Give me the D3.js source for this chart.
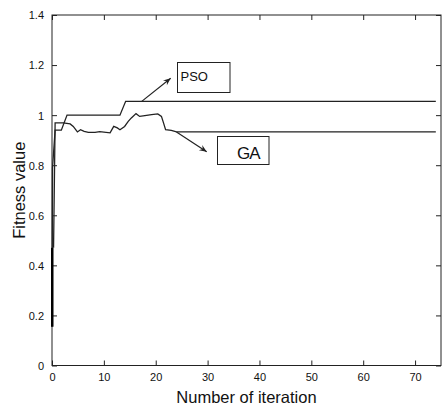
<!DOCTYPE html>
<html><head><meta charset="utf-8">
<script src="https://cdn.jsdelivr.net/npm/d3@7"></script>
<style>body{margin:0;background:#fff}svg{display:block}</style>
</head><body>
<svg id="c" width="442" height="409"></svg>
<script>
const xTicks = [0,10,20,30,40,50,60,70];
const yTicks = [0,0.2,0.4,0.6,0.8,1,1.2,1.4];
const psoIter = [0, 0.1, 0.6, 1.8, 2.9, 13.1, 14.2, 74];
const psoVal  = [0.155, 0.79, 0.94, 0.94, 1.0, 1.0, 1.055, 1.055];
const gaIter = [0.3, 0.6, 2.2, 3.5, 4.1, 4.9, 5.5, 6.2, 7.0, 8.3, 9.2, 11.2, 11.9, 12.6, 13.1, 14.0, 14.7, 15.3, 16.2, 16.9, 17.9, 19.2, 20.4, 21.1, 21.5, 21.9, 23.0, 24.0, 74];
const gaVal  = [0.47, 0.969, 0.969, 0.965, 0.955, 0.933, 0.942, 0.935, 0.931, 0.931, 0.934, 0.929, 0.955, 0.949, 0.942, 0.955, 0.975, 0.989, 1.006, 0.995, 0.998, 1.002, 1.005, 0.995, 0.969, 0.942, 0.939, 0.933, 0.933];
const labels = ["PSO","GA"];

const svg = d3.select("#c");
const L=52, R=441, T=15, B=365.5;
const x = d3.scaleLinear().domain([0,75]).range([L,R]);
const y = d3.scaleLinear().domain([0,1.4]).range([B,T]);
const col = "#222";
const font = "Arial, 'Liberation Sans', sans-serif";

svg.append("rect").attr("x",L).attr("y",T).attr("width",R-L).attr("height",B-T)
  .attr("fill","none").attr("stroke",col).attr("stroke-width",1);

const tl = 5;
const gx = svg.append("g").attr("transform",`translate(0,${B})`)
  .call(d3.axisBottom(x).tickValues(xTicks).tickSize(-tl).tickPadding(8).tickFormat(d3.format("d")));
const gxt = svg.append("g").attr("transform",`translate(0,${T})`)
  .call(d3.axisTop(x).tickValues(xTicks).tickSize(-tl).tickFormat(""));
const gy = svg.append("g").attr("transform",`translate(${L},0)`)
  .call(d3.axisLeft(y).tickValues(yTicks).tickSize(-tl).tickPadding(8).tickFormat(d=>String(+d.toFixed(1))));
const gyr = svg.append("g").attr("transform",`translate(${R},0)`)
  .call(d3.axisRight(y).tickValues(yTicks).tickSize(-tl).tickFormat(""));
[gx,gxt,gy,gyr].forEach(g=>{
  g.select(".domain").remove();
  g.selectAll("line").attr("stroke",col).attr("stroke-width",1);
  g.selectAll("text").attr("fill","#111").attr("font-family",font).attr("font-size",11);
});
gy.selectAll("text").attr("dy","0.35em");

const line = d3.line().x(d=>x(d[0])).y(d=>y(d[1]));
const pso = psoIter.map((v,i)=>[v,psoVal[i]]);
const ga = gaIter.map((v,i)=>[v,gaVal[i]]);
svg.append("path").attr("d",line(pso)).attr("fill","none").attr("stroke",col).attr("stroke-width",1.3);
svg.append("path").attr("d",line(ga)).attr("fill","none").attr("stroke",col).attr("stroke-width",1.3);
svg.append("path").attr("d",line([[0.05,0.155],[0.05,0.47]])).attr("stroke","#000").attr("stroke-width",2.5);

function arrow(x1,y1,x2,y2){
  svg.append("line").attr("x1",x1).attr("y1",y1).attr("x2",x2).attr("y2",y2).attr("stroke",col).attr("stroke-width",1.2);
  const a=Math.atan2(y2-y1,x2-x1), h=8, w=0.4;
  const p=[[x2,y2],[x2-h*Math.cos(a-w),y2-h*Math.sin(a-w)],[x2-h*0.6*Math.cos(a),y2-h*0.6*Math.sin(a)],[x2-h*Math.cos(a+w),y2-h*Math.sin(a+w)]];
  svg.append("path").attr("d","M"+p.map(q=>q.join(",")).join("L")+"Z").attr("fill",col);
}
arrow(x(17.3), y(1.055), 170.7, 78.3);
arrow(x(24), y(0.933), 206.7, 151.7);

svg.append("rect").attr("x",177.5).attr("y",62.5).attr("width",52.5).attr("height",30).attr("fill","#fff").attr("stroke",col);
svg.append("text").attr("x",180.5).attr("y",81).attr("font-family",font).attr("font-size",13).attr("fill","#111").text(labels[0]);
svg.append("rect").attr("x",217.5).attr("y",136.5).attr("width",51.5).attr("height",28).attr("fill","#fff").attr("stroke",col);
svg.append("text").attr("x",237).attr("y",159).attr("font-family",font).attr("font-size",17).attr("fill","#111").attr("letter-spacing",-1).text(labels[1]);

svg.append("text").attr("x",(L+R)/2).attr("y",403).attr("text-anchor","middle")
  .attr("font-family",font).attr("font-size",16.5).attr("fill","#111").text("Number of iteration");
svg.append("text").attr("transform",`translate(25,${(T+B)/2}) rotate(-90)`).attr("text-anchor","middle")
  .attr("font-family",font).attr("font-size",16.5).attr("fill","#111").text("Fitness value");
</script>
</body></html>
